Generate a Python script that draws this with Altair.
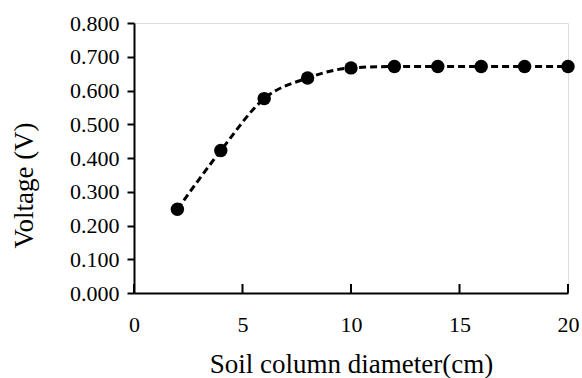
import altair as alt
import pandas as pd

diameter = [2, 4, 6, 8, 10, 12, 14, 16, 18, 20]
voltage = [0.248, 0.422, 0.576, 0.637, 0.667, 0.671, 0.671, 0.671, 0.671, 0.671]
x_ticks = [0, 5, 10, 15, 20]
y_ticks = [0.0, 0.1, 0.2, 0.3, 0.4, 0.5, 0.6, 0.7, 0.8]

df = pd.DataFrame({"d": diameter, "v": voltage})
tick_df = pd.DataFrame({"t": x_ticks})

W, H = 434, 270
FONT = "Liberation Serif"

xs = alt.Scale(domain=[0, 20], nice=False)
ys = alt.Scale(domain=[0, 0.8], nice=False)

xaxis = alt.Axis(values=x_ticks, ticks=False, grid=False, labelPadding=38,
                 labelBaseline="alphabetic", labelFont=FONT,
                 title="Soil column diameter(cm)", titleY=79, titleBaseline="alphabetic",
                 domainColor="black", domainWidth=2, labelFlush=False,
                 labelOverlap=False)
yaxis = alt.Axis(values=y_ticks, format=".3f", grid=False, tickSize=7, tickWidth=2,
                 tickColor="black", labelPadding=8, title="Voltage (V)",
                 labelFont=FONT,
                 titleX=-110, titleY=162, titleBaseline="middle", titleAlign="center",
                 domainColor="black", domainWidth=2,
                 labelOverlap=False)

line = alt.Chart(df).mark_line(color="black", strokeWidth=3, strokeDash=[7, 4],
                               interpolate="monotone").encode(
    x=alt.X("d:Q", scale=xs, axis=xaxis),
    y=alt.Y("v:Q", scale=ys, axis=yaxis),
)
pts = alt.Chart(df).mark_circle(color="black", opacity=1, size=180).encode(
    x=alt.X("d:Q", scale=xs, axis=xaxis),
    y=alt.Y("v:Q", scale=ys, axis=yaxis),
)
ticks = alt.Chart(tick_df).mark_rule(color="black", strokeWidth=2).encode(
    x=alt.X("t:Q", scale=xs, axis=xaxis),
    y=alt.value(H),
    y2=alt.value(H - 9),
)

chart = alt.layer(line, ticks, pts).properties(
    width=W, height=H,
    autosize=alt.AutoSizeParams(type="none"),
    padding={"left": 134, "top": 23, "right": 14, "bottom": 85},
).configure_view(stroke=None).configure(background="white").configure_axis(
    labelFont=FONT, titleFont=FONT, labelFontSize=22, titleFontSize=27,
    labelColor="black", titleColor="black", titleFontWeight="normal",
)

chart.save("out.html", embed_options={"renderer": "svg", "actions": False})
